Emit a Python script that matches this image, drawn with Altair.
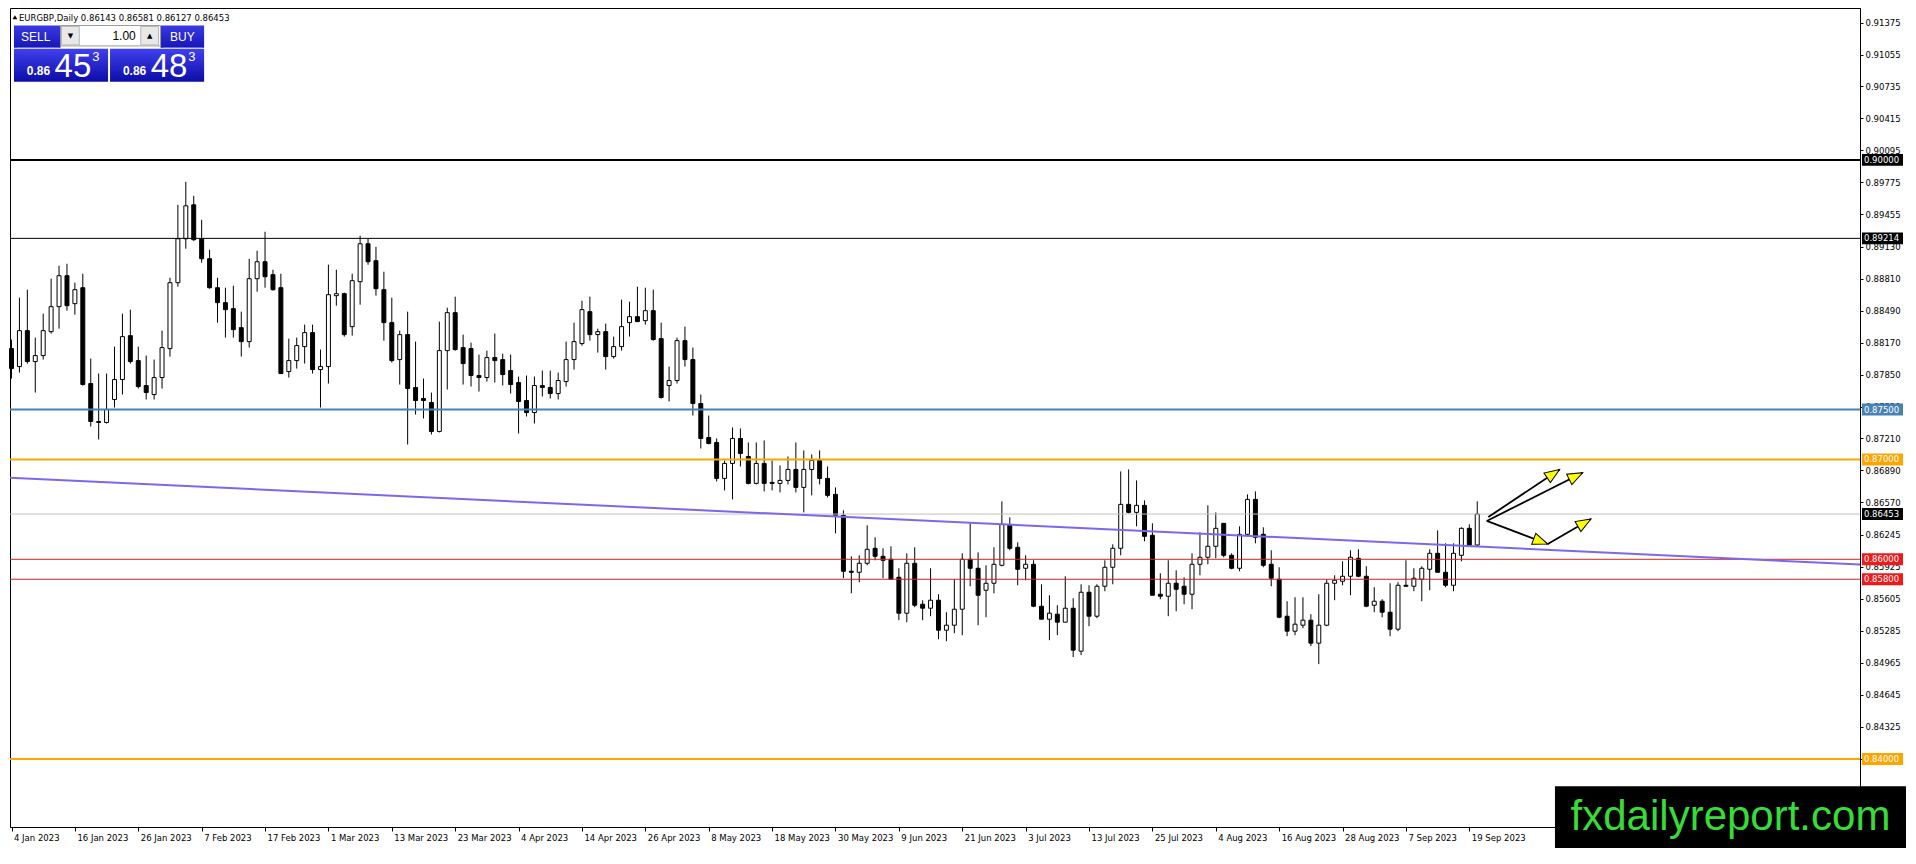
import math
import altair as alt
import numpy as np
import pandas as pd

# ---------------- data ----------------
OPEN = [0.8811, 0.8793, 0.8829, 0.8798, 0.8804, 0.8828, 0.8853, 0.8884, 0.8856, 0.8872,
        0.8776, 0.8738, 0.8737, 0.8760, 0.8780, 0.8824, 0.8799, 0.8774, 0.8765, 0.8782,
        0.8811, 0.8877, 0.8921, 0.8955, 0.8921, 0.8901, 0.8872, 0.8857, 0.8851, 0.8832,
        0.8818, 0.8881, 0.8898, 0.8885, 0.8872, 0.8788, 0.8799, 0.8813, 0.8827, 0.8790,
        0.8793, 0.8864, 0.8866, 0.8833, 0.8878, 0.8916, 0.8899, 0.8870, 0.8837, 0.8800,
        0.8825, 0.8772, 0.8761, 0.8757, 0.8728, 0.8809, 0.8847, 0.8812, 0.8811, 0.8784,
        0.8782, 0.8802, 0.8800, 0.8789, 0.8777, 0.8759, 0.8747, 0.8774, 0.8772, 0.8766,
        0.8778, 0.8800, 0.8816, 0.8848, 0.8825, 0.8828, 0.8803, 0.8813, 0.8837, 0.8843,
        0.8839, 0.8849, 0.8821, 0.8774, 0.8779, 0.8819, 0.8800, 0.8756, 0.8722, 0.8717,
        0.8681, 0.8696, 0.8721, 0.8703, 0.8676, 0.8696, 0.8677, 0.8676, 0.8679, 0.8690,
        0.8672, 0.8690, 0.8699, 0.8681, 0.8665, 0.8644, 0.8588, 0.8587, 0.8596, 0.8611,
        0.8603, 0.8600, 0.8582, 0.8546, 0.8596, 0.8555, 0.8551, 0.8559, 0.8529, 0.8534,
        0.8550, 0.8600, 0.8591, 0.8569, 0.8576, 0.8594, 0.8634, 0.8612, 0.8591, 0.8595,
        0.8553, 0.8540, 0.8545, 0.8537, 0.8551, 0.8508, 0.8567, 0.8543, 0.8573, 0.8592,
        0.8611, 0.8655, 0.8647, 0.8654, 0.8624, 0.8565, 0.8563, 0.8576, 0.8573, 0.8565,
        0.8595, 0.8602, 0.8613, 0.8636, 0.8604, 0.8591, 0.8625, 0.8660, 0.8625, 0.8595,
        0.8580, 0.8543, 0.8528, 0.8534, 0.8539, 0.8516, 0.8534, 0.8576, 0.8578, 0.8583,
        0.8601, 0.8583, 0.8554, 0.8558, 0.8547, 0.8530, 0.8574, 0.8573, 0.8580, 0.8590,
        0.8606, 0.8587, 0.8574, 0.8604, 0.8631, 0.86143]
HIGH = [0.8820, 0.8862, 0.8870, 0.8822, 0.8846, 0.8881, 0.8894, 0.8896, 0.8877, 0.8886,
        0.8801, 0.8786, 0.8786, 0.8813, 0.8846, 0.8850, 0.8813, 0.8804, 0.8800, 0.8829,
        0.8882, 0.8955, 0.8978, 0.8964, 0.8940, 0.8910, 0.8882, 0.8872, 0.8874, 0.8848,
        0.8901, 0.8909, 0.8928, 0.8890, 0.8886, 0.8821, 0.8822, 0.8835, 0.8835, 0.8810,
        0.8895, 0.8890, 0.8867, 0.8886, 0.8924, 0.8921, 0.8913, 0.8888, 0.8862, 0.8829,
        0.8848, 0.8818, 0.8781, 0.8767, 0.8838, 0.8852, 0.8863, 0.8825, 0.8817, 0.8805,
        0.8809, 0.8826, 0.8806, 0.8805, 0.8783, 0.8784, 0.8783, 0.8789, 0.8789, 0.8787,
        0.8818, 0.8837, 0.8859, 0.8863, 0.8831, 0.8836, 0.8823, 0.8860, 0.8858, 0.8873,
        0.8872, 0.8870, 0.8837, 0.8793, 0.8822, 0.8833, 0.8812, 0.8765, 0.8744, 0.8721,
        0.8699, 0.8732, 0.8731, 0.8717, 0.8717, 0.8719, 0.8699, 0.8694, 0.8703, 0.8717,
        0.8709, 0.8705, 0.8709, 0.8693, 0.8672, 0.8649, 0.8603, 0.8604, 0.8634, 0.8622,
        0.8611, 0.8613, 0.8591, 0.8606, 0.8612, 0.8559, 0.8591, 0.8565, 0.8547, 0.8580,
        0.8606, 0.8636, 0.8607, 0.8594, 0.8612, 0.8658, 0.8642, 0.8617, 0.8604, 0.8599,
        0.8575, 0.8564, 0.8554, 0.8583, 0.8561, 0.8575, 0.8574, 0.8575, 0.8599, 0.8615,
        0.8688, 0.8690, 0.8679, 0.8659, 0.8636, 0.8586, 0.8599, 0.8589, 0.8582, 0.8606,
        0.8627, 0.8654, 0.8647, 0.8636, 0.8606, 0.8633, 0.8665, 0.8668, 0.8632, 0.8609,
        0.8592, 0.8558, 0.8562, 0.8562, 0.8545, 0.8565, 0.8580, 0.8584, 0.8598, 0.8609,
        0.8610, 0.8593, 0.8572, 0.8560, 0.8576, 0.8577, 0.8599, 0.8591, 0.8593, 0.8610,
        0.8629, 0.8616, 0.8616, 0.8632, 0.8635, 0.86581]
LOW = [0.8781, 0.8787, 0.8796, 0.8767, 0.8800, 0.8826, 0.8831, 0.8849, 0.8845, 0.8774,
       0.8733, 0.8720, 0.8736, 0.8752, 0.8765, 0.8796, 0.8771, 0.8760, 0.8760, 0.8771,
       0.8803, 0.8873, 0.8911, 0.8919, 0.8897, 0.8871, 0.8837, 0.8822, 0.8822, 0.8803,
       0.8812, 0.8868, 0.8872, 0.8869, 0.8786, 0.8782, 0.8791, 0.8796, 0.8786, 0.8752,
       0.8776, 0.8854, 0.8823, 0.8824, 0.8855, 0.8895, 0.8864, 0.8819, 0.8797, 0.8775,
       0.8715, 0.8745, 0.8741, 0.8725, 0.8727, 0.8770, 0.8809, 0.8775, 0.8773, 0.8768,
       0.8778, 0.8777, 0.8774, 0.8766, 0.8726, 0.8743, 0.8736, 0.8763, 0.8761, 0.8760,
       0.8773, 0.8790, 0.8814, 0.8819, 0.8807, 0.8790, 0.8801, 0.8809, 0.8823, 0.8838,
       0.8835, 0.8819, 0.8761, 0.8758, 0.8776, 0.8793, 0.8744, 0.8711, 0.8715, 0.8678,
       0.8669, 0.8660, 0.8693, 0.8675, 0.8675, 0.8668, 0.8669, 0.8667, 0.8675, 0.8667,
       0.8647, 0.8664, 0.8675, 0.8662, 0.8626, 0.8581, 0.8566, 0.8577, 0.8594, 0.8599,
       0.8581, 0.8580, 0.8539, 0.8537, 0.8552, 0.8539, 0.8543, 0.8520, 0.8518, 0.8526,
       0.8524, 0.8573, 0.8534, 0.8542, 0.8566, 0.8593, 0.8609, 0.8574, 0.8579, 0.8552,
       0.8540, 0.8519, 0.8524, 0.8537, 0.8502, 0.8504, 0.8533, 0.8541, 0.8568, 0.8575,
       0.8604, 0.8646, 0.8633, 0.8618, 0.8564, 0.8560, 0.8543, 0.8548, 0.8555, 0.8550,
       0.8584, 0.8595, 0.8601, 0.8602, 0.8590, 0.8588, 0.8623, 0.8616, 0.8592, 0.8573,
       0.8541, 0.8523, 0.8524, 0.8531, 0.8513, 0.8495, 0.8533, 0.8559, 0.8574, 0.8564,
       0.8582, 0.8552, 0.8547, 0.8542, 0.8523, 0.8528, 0.8573, 0.8568, 0.8558, 0.8569,
       0.8587, 0.8572, 0.8568, 0.8598, 0.8615, 0.86127]
CLOSE = [0.8791, 0.8829, 0.8798, 0.8804, 0.8829, 0.8853, 0.8884, 0.8854, 0.8870, 0.8775,
         0.8738, 0.8737, 0.8750, 0.8780, 0.8823, 0.8798, 0.8773, 0.8767, 0.8782, 0.8812,
         0.8877, 0.8921, 0.8954, 0.8920, 0.8901, 0.8872, 0.8857, 0.8850, 0.8830, 0.8818,
         0.8881, 0.8898, 0.8883, 0.8870, 0.8786, 0.8799, 0.8814, 0.8827, 0.8790, 0.8793,
         0.8865, 0.8866, 0.8825, 0.8879, 0.8916, 0.8898, 0.8871, 0.8837, 0.8799, 0.8825,
         0.8771, 0.8759, 0.8759, 0.8728, 0.8809, 0.8847, 0.8810, 0.8796, 0.8784, 0.8782,
         0.8802, 0.8799, 0.8785, 0.8775, 0.8758, 0.8747, 0.8774, 0.8772, 0.8766, 0.8779,
         0.8800, 0.8818, 0.8850, 0.8825, 0.8828, 0.8803, 0.8813, 0.8833, 0.8843, 0.8838,
         0.8849, 0.8820, 0.8762, 0.8779, 0.8819, 0.8800, 0.8756, 0.8721, 0.8716, 0.8681,
         0.8696, 0.8721, 0.8706, 0.8676, 0.8696, 0.8676, 0.8676, 0.8679, 0.8690, 0.8672,
         0.8690, 0.8699, 0.8681, 0.8664, 0.8644, 0.8588, 0.8587, 0.8596, 0.8610, 0.8603,
         0.8599, 0.8580, 0.8546, 0.8596, 0.8554, 0.8551, 0.8559, 0.8529, 0.8534, 0.8550,
         0.8600, 0.8591, 0.8564, 0.8576, 0.8595, 0.8635, 0.8611, 0.8590, 0.8595, 0.8553,
         0.8540, 0.8546, 0.8537, 0.8551, 0.8509, 0.8567, 0.8543, 0.8573, 0.8592, 0.8611,
         0.8655, 0.8647, 0.8654, 0.8623, 0.8564, 0.8563, 0.8576, 0.8570, 0.8565, 0.8595,
         0.8602, 0.8613, 0.8631, 0.8604, 0.8591, 0.8625, 0.8660, 0.8622, 0.8594, 0.8581,
         0.8542, 0.8528, 0.8535, 0.8539, 0.8516, 0.8534, 0.8576, 0.8579, 0.8583, 0.8602,
         0.8583, 0.8553, 0.8558, 0.8547, 0.8530, 0.8574, 0.8573, 0.8581, 0.8591, 0.8606,
         0.8587, 0.8574, 0.8606, 0.8631, 0.8614, 0.86453]

DATE_LABELS = ["4 Jan 2023", "16 Jan 2023", "26 Jan 2023", "7 Feb 2023", "17 Feb 2023",
               "1 Mar 2023", "13 Mar 2023", "23 Mar 2023", "4 Apr 2023", "14 Apr 2023",
               "26 Apr 2023", "8 May 2023", "18 May 2023", "30 May 2023", "9 Jun 2023",
               "21 Jun 2023", "3 Jul 2023", "13 Jul 2023", "25 Jul 2023", "4 Aug 2023",
               "16 Aug 2023", "28 Aug 2023", "7 Sep 2023", "19 Sep 2023"]
LABEL_STEP = 8  # bars between date labels

Y_TICKS = [0.91375, 0.91055, 0.90735, 0.90415, 0.90095, 0.89775, 0.89455, 0.89130,
           0.88810, 0.88490, 0.88170, 0.87850, 0.87530, 0.87210, 0.86890, 0.86570,
           0.86245, 0.85925, 0.85605, 0.85285, 0.84965, 0.84645, 0.84325, 0.84005]

LEVELS = [0.90000, 0.89214, 0.87500, 0.87000, 0.86453, 0.86000, 0.85800, 0.84000]
LEVEL_TEXT = ["0.90000", "0.89214", "0.87500", "0.87000", "0.86453", "0.86000", "0.85800", "0.84000"]

TREND_IDX = [-0.19, 233.31]
TREND_PRICE = [0.86816, 0.85948]

ARROW_X0 = [186.4, 186.2, 186.2, 193.9]
ARROW_Y0 = [0.86423, 0.86384, 0.86384, 0.86153]
ARROW_X1 = [195.4, 198.3, 193.9, 199.35]
ARROW_Y1 = [0.86899, 0.86867, 0.86153, 0.86403]

SYMBOL = "EURGBP,Daily"
QUOTE = ["0.86143", "0.86581", "0.86127", "0.86453"]
SELL_PRICE = ["0.86", "45", "3"]
BUY_PRICE = ["0.86", "48", "3"]
LOT = "1.00"
WATERMARK = "fxdailyreport.com"

# ---------------- styles ----------------
LEVEL_COLORS = ["#000000", "#000000", "#4682B4", "#FFA500", "#C0C0C0", "#D42222", "#D42222", "#FFA500"]
LEVEL_WIDTHS = [2, 1, 2, 2, 1, 1, 1, 2]
BOX_COLORS = ["#000000", "#000000", "#4682B4", "#FFA500", "#000000", "#F01818", "#F01818", "#FFA500"]
AXFONT = "DejaVu Sans"
UIFONT = "Liberation Sans"

W, H = 1850, 819
XMIN, XMAX = -0.19, 233.31
YMIN, YMAX = 0.83319, 0.91521
XPX = W / (XMAX - XMIN)
YPX = H / (YMAX - YMIN)

def fx(v):
    return (v - 2) * W / 1868.0

def fy(v):
    return v * H / 843.0

xs = alt.Scale(domain=[XMIN, XMAX], nice=False, zero=False)
ys = alt.Scale(domain=[YMIN, YMAX], nice=False, zero=False)

label_expr = "[" + ",".join("'%s'" % s for s in DATE_LABELS) + "][round(datum.value/%d)]" % LABEL_STEP
xaxis = alt.Axis(values=[i * LABEL_STEP for i in range(len(DATE_LABELS))], labelExpr=label_expr,
                 title=None, grid=False, orient="bottom", labelAlign="left", labelBaseline="top",
                 labelOffset=2, labelPadding=2, tickSize=4, labelOverlap=False, labelFlush=False,
                 labelBound=False, domainColor="black", tickColor="black", labelColor="black",
                 labelFont=AXFONT, labelFontSize=8.5, domainWidth=1, tickWidth=1)
yaxis = alt.Axis(values=Y_TICKS, format=".5f", title=None, grid=False, orient="right",
                 labelAlign="left", labelBaseline="middle", tickSize=3, labelPadding=2,
                 labelOverlap=False, labelFlush=False, labelBound=False, domainColor="black",
                 tickColor="black", labelColor="black", labelFont=AXFONT, labelFontSize=8.5,
                 domainWidth=1, tickWidth=1)

def X(f):
    return alt.X(f, scale=xs, axis=xaxis)

def Y(f):
    return alt.Y(f, scale=ys, axis=yaxis)

# ---------------- tables ----------------
n = len(OPEN)
df = pd.DataFrame({"idx": np.arange(n), "o": OPEN, "h": HIGH, "l": LOW, "c": CLOSE})
df["x0"] = df["idx"] - 0.25
df["x1"] = df["idx"] + 0.25

lv = pd.DataFrame({"p": LEVELS, "col": LEVEL_COLORS, "w": LEVEL_WIDTHS,
                   "t": LEVEL_TEXT, "bc": BOX_COLORS})
tr = pd.DataFrame({"i": TREND_IDX, "p": TREND_PRICE})
ar = pd.DataFrame({"x0": ARROW_X0, "y0": ARROW_Y0, "x1": ARROW_X1, "y1": ARROW_Y1})
ar["a"] = [math.degrees(math.atan2((b - a) * XPX, (d - c) * YPX)) % 360
           for a, b, c, d in zip(ARROW_X0, ARROW_X1, ARROW_Y0, ARROW_Y1)]
one = pd.DataFrame({"k": [0]})

# ---------------- layers ----------------
wicks = alt.Chart(df).mark_rule(color="black", strokeWidth=1).encode(
    x=X("idx:Q"), y=Y("l:Q"), y2="h:Q")
bodies = alt.Chart(df).mark_rect(stroke="black", strokeWidth=1).encode(
    x=X("x0:Q"), x2="x1:Q", y=Y("o:Q"), y2="c:Q",
    fill=alt.condition("datum.c >= datum.o", alt.value("white"), alt.value("black")))

level_lines = alt.Chart(lv).mark_rule().encode(
    y=Y("p:Q"), color=alt.Color("col:N", scale=None),
    strokeWidth=alt.StrokeWidth("w:Q", scale=None))

trend = alt.Chart(tr).mark_line(color="#7B68EE", strokeWidth=2).encode(x=X("i:Q"), y=Y("p:Q"))

arrow_lines = alt.Chart(ar).mark_rule(color="black", strokeWidth=1.8).encode(
    x=X("x0:Q"), x2="x1:Q", y=Y("y0:Q"), y2="y1:Q")
HEAD = "M0,0 L0.62,1.6 L-0.62,1.6 Z"
arrow_heads = alt.Chart(ar).mark_point(shape=HEAD, size=350, filled=True, fill="#FFFF00",
                                       stroke="black", strokeWidth=1, opacity=1).encode(
    x=X("x1:Q"), y=Y("y1:Q"), angle=alt.Angle("a:Q", scale=None))

BOX = "M-1,-0.29 L1,-0.29 L1,0.29 L-1,0.29 Z"
level_boxes = alt.Chart(lv).mark_point(shape=BOX, size=1681, filled=True, opacity=1,
                                       strokeWidth=0).encode(
    x=alt.value(W + 22.5), y=Y("p:Q"), color=alt.Color("bc:N", scale=None))
level_text = alt.Chart(lv).mark_text(align="left", baseline="middle", color="white",
                                     font=AXFONT, fontSize=8.5).encode(
    x=alt.value(W + 4), y=Y("p:Q"), text="t:N")


def rect(x0, y0, x1, y1, **kw):
    return alt.Chart(one).mark_rect(**kw).encode(
        x=alt.value(x0), x2=alt.value(x1), y=alt.value(y0), y2=alt.value(y1))


def txt(x, y, s, **kw):
    return alt.Chart(one).mark_text(text=s, **kw).encode(x=alt.value(x), y=alt.value(y))


blue_grad = alt.LinearGradient(gradient="linear",
                               stops=[alt.GradientStop(offset=0, color="#4040EE"),
                                      alt.GradientStop(offset=1, color="#0C0CA8")],
                               x1=0, x2=0, y1=0, y2=1)
head_grad = alt.LinearGradient(gradient="linear",
                               stops=[alt.GradientStop(offset=0, color="#3A3AE4"),
                                      alt.GradientStop(offset=1, color="#1616B8")],
                               x1=0, x2=0, y1=0, y2=1)

ui = [
    # symbol line
    alt.Chart(one).mark_point(shape="triangle-up", size=22, filled=True, color="black",
                              opacity=1).encode(x=alt.value(fx(7)), y=alt.value(fy(9.5))),
    txt(fx(11), fy(10), SYMBOL + "  " + " ".join(QUOTE), align="left", baseline="middle",
        font=AXFONT, fontSize=8.5, color="black"),
    # sell / buy blocks
    rect(fx(6), fy(18), fx(53), fy(41), fill=head_grad),
    rect(fx(154), fy(18), fx(198), fy(41), fill=head_grad),
    rect(fx(6), fy(42), fx(101), fy(76), fill=blue_grad),
    rect(fx(103), fy(42), fx(198), fy(76), fill=blue_grad),
    rect(fx(9), fy(41), fx(51), fy(42), fill="#C8C8F0"),
    rect(fx(157), fy(41), fx(196), fy(42), fill="#C8C8F0"),
    rect(fx(53), fy(18), fx(154), fy(39), fill="white", stroke="#9A9A9A", strokeWidth=1),
    rect(fx(54), fy(19), fx(72), fy(38), fill="#E8E8E8", stroke="#B8B8B8", strokeWidth=1),
    rect(fx(134), fy(19), fx(152), fy(38), fill="#E8E8E8", stroke="#B8B8B8", strokeWidth=1),
    txt(fx(63), fy(29), "▼", align="center", baseline="middle", font=AXFONT, fontSize=7, color="black"),
    txt(fx(143), fy(29), "▲", align="center", baseline="middle", font=AXFONT, fontSize=7, color="black"),
    txt(fx(129), fy(29), LOT, align="right", baseline="middle", font=UIFONT, fontSize=12, color="black"),
    txt(fx(28), fy(30), "SELL", align="center", baseline="middle", font=UIFONT, fontSize=12, color="white"),
    txt(fx(176), fy(30), "BUY", align="center", baseline="middle", font=UIFONT, fontSize=12, color="white"),
    txt(fx(19), fy(69), SELL_PRICE[0], align="left", baseline="alphabetic", font=UIFONT,
        fontSize=12, fontWeight="bold", color="white"),
    txt(fx(47), fy(71), SELL_PRICE[1], align="left", baseline="alphabetic", font=UIFONT,
        fontSize=33, color="white"),
    txt(fx(85), fy(55), SELL_PRICE[2], align="left", baseline="alphabetic", font=UIFONT,
        fontSize=13, color="white"),
    txt(fx(116), fy(69), BUY_PRICE[0], align="left", baseline="alphabetic", font=UIFONT,
        fontSize=12, fontWeight="bold", color="white"),
    txt(fx(144), fy(71), BUY_PRICE[1], align="left", baseline="alphabetic", font=UIFONT,
        fontSize=33, color="white"),
    txt(fx(182), fy(55), BUY_PRICE[2], align="left", baseline="alphabetic", font=UIFONT,
        fontSize=13, color="white"),
    # watermark
    rect(fx(1562), fy(801), W + 46, H + 21, fill="black"),
    txt((fx(1562) + W + 46) / 2, (fy(801) + H + 21) / 2, WATERMARK, align="center",
        baseline="middle", font=UIFONT, fontSize=42, color="#35DD35"),
]

chart = alt.layer(
    wicks, bodies, level_lines, trend, arrow_lines, arrow_heads, level_boxes, level_text, *ui
).properties(
    width=W, height=H,
    padding={"left": 2, "top": 0, "right": 46, "bottom": 21},
    autosize=alt.AutoSizeParams(type="none"),
    background="white",
).configure_view(stroke="black", strokeWidth=1)

chart.save("out.html", embed_options={"renderer": "svg", "actions": False})
